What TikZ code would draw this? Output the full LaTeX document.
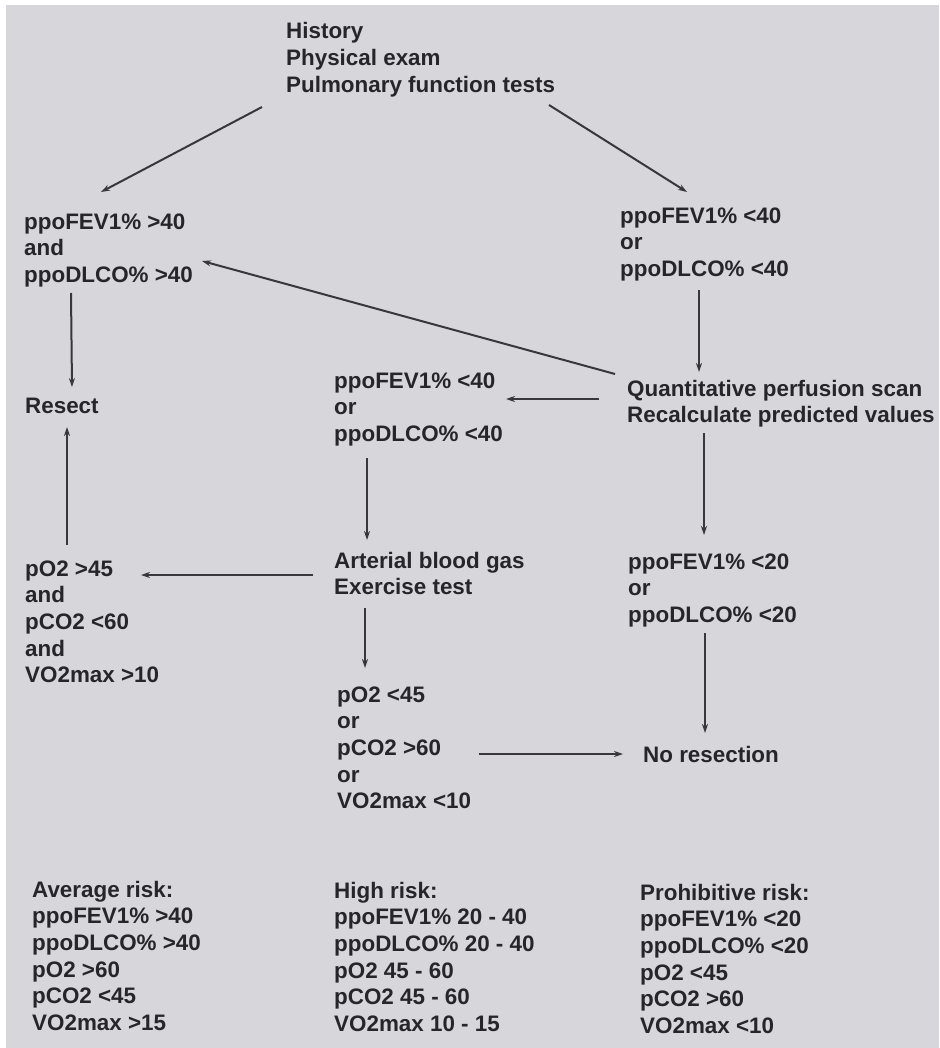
\documentclass[tikz,border=0pt]{standalone}
\usepackage{fontspec}
\setmainfont{Liberation Sans}
\usetikzlibrary{arrows.meta}
\definecolor{paper}{RGB}{214,214,219}
\definecolor{ink}{RGB}{38,38,42}
\definecolor{rulegray}{RGB}{55,55,60}
\begin{document}
\begin{tikzpicture}[x=1pt,y=-1pt,
  lbl/.style={anchor=base west, inner sep=0pt, align=left, text=ink,
    font=\fontsize{22.4}{26.7}\selectfont\bfseries},
  arr/.style={draw=rulegray, line width=2pt, -{Stealth[length=9pt,width=6pt]}}]
  % page
  \fill[white] (0,0) rectangle (939,1048);
  \fill[paper] (6,5) rectangle (939,1048);
  \useasboundingbox (0,0) rectangle (939,1048);

  % text blocks (each placed by the baseline of its last line)
  \node[lbl] (start) at (286,92.4) {History\\Physical exam\\Pulmonary function tests};
  \node[lbl] (okA) at (24,282.4) {ppoFEV1\% >40\\and\\ppoDLCO\% >40};
  \node[lbl] (lowA) at (620,276.4) {ppoFEV1\% <40\\or\\ppoDLCO\% <40};
  \node[lbl] (resect) at (25,413) {Resect};
  \node[lbl] (scan) at (627,422.7) {Quantitative perfusion scan\\Recalculate predicted values};
  \node[lbl] (lowB) at (334,441.4) {ppoFEV1\% <40\\or\\ppoDLCO\% <40};
  \node[lbl] (abg) at (334,594.7) {Arterial blood gas\\Exercise test};
  \node[lbl] (gasok) at (25,682.8) {pO2 >45\\and\\pCO2 <60\\and\\VO2max >10};
  \node[lbl] (lowC) at (628,622.4) {ppoFEV1\% <20\\or\\ppoDLCO\% <20};
  \node[lbl] (gasbad) at (337,808.8) {pO2 <45\\or\\pCO2 >60\\or\\VO2max <10};
  \node[lbl] (nores) at (643,762) {No resection};

  % risk summary
  \node[lbl] (avg) at (32,1030.5) {Average risk:\\ppoFEV1\% >40\\ppoDLCO\% >40\\pO2 >60\\pCO2 <45\\VO2max >15};
  \node[lbl] (high) at (334,1031.5) {High risk:\\ppoFEV1\% 20 - 40\\ppoDLCO\% 20 - 40\\pO2 45 - 60\\pCO2 45 - 60\\VO2max 10 - 15};
  \node[lbl] (prohib) at (640,1033.5) {Prohibitive risk:\\ppoFEV1\% <20\\ppoDLCO\% <20\\pO2 <45\\pCO2 >60\\VO2max <10};

  % connectors
  \draw[arr] ([shift={(-24,14.6)}]start.base west) -- ([shift={(77,-90.4)}]okA.base west);
  \draw[arr] ([shift={(263,12.6)}]start.base west) -- ([shift={(67,-84.4)}]lowA.base west);
  \draw[arr] ([shift={(-12,-48.7)}]scan.base west) -- ([shift={(178,-21.4)}]okA.base west);
  \draw[arr] ([shift={(47,10.6)}]okA.base west) -- ([shift={(47,-26)}]resect.base west);
  \draw[arr] ([shift={(79,13.6)}]lowA.base west) -- ([shift={(72,-50.7)}]scan.base west);
  \draw[arr] ([shift={(-28,-23.7)}]scan.base west) -- ([shift={(172,-42.4)}]lowB.base west);
  \draw[arr] ([shift={(33,16.6)}]lowB.base west) -- ([shift={(33,-54.7)}]abg.base west);
  \draw[arr] ([shift={(-21,-19.7)}]abg.base west) -- ([shift={(116,-107.8)}]gasok.base west);
  \draw[arr] ([shift={(42,-137.8)}]gasok.base west) -- ([shift={(42,14)}]resect.base west);
  \draw[arr] ([shift={(77,10.3)}]scan.base west) -- ([shift={(76,-87.4)}]lowC.base west);
  \draw[arr] ([shift={(31,13.3)}]abg.base west) -- ([shift={(28,-140.8)}]gasbad.base west);
  \draw[arr] ([shift={(77,10.6)}]lowC.base west) -- ([shift={(62,-29)}]nores.base west);
  \draw[arr] ([shift={(142,-54.8)}]gasbad.base west) -- ([shift={(-20,-8)}]nores.base west);
\end{tikzpicture}
\end{document}
